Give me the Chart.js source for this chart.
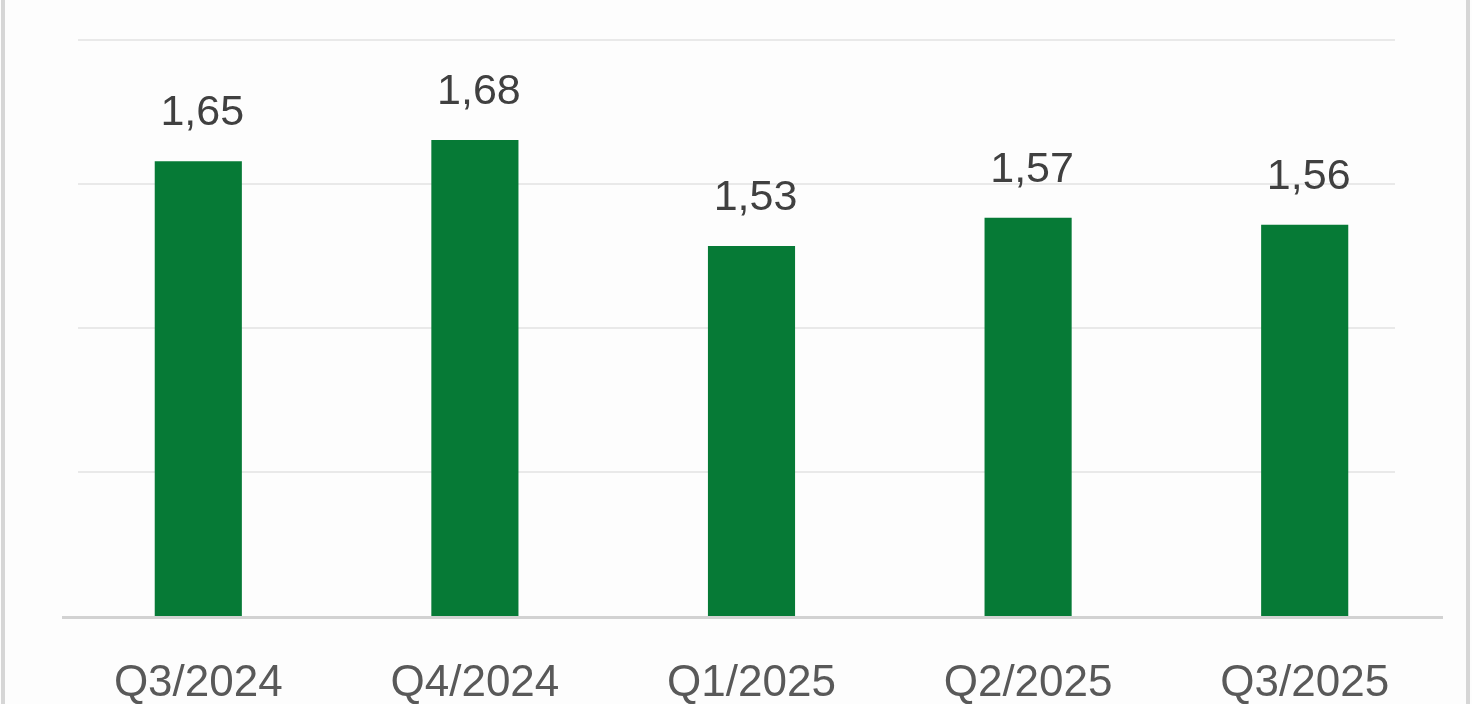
<!DOCTYPE html>
<html>
<head>
<meta charset="utf-8">
<script src="https://cdn.jsdelivr.net/npm/chart.js@4/dist/chart.umd.min.js"></script>
<style>
  html, body { margin: 0; padding: 0; background: #ffffff; }
  #wrap { position: relative; width: 1472px; height: 704px; }
  canvas { display: block; }
</style>
</head>
<body>
<div id="wrap"><canvas id="c" width="1472" height="704"></canvas></div>
<script>
const categories = ["Q3/2024", "Q4/2024", "Q1/2025", "Q2/2025", "Q3/2025"];
const values = [1.65, 1.68, 1.53, 1.57, 1.56];
const valueLabels = ["1,65", "1,68", "1,53", "1,57", "1,56"];
const yMin = 1.0067;
const yMax = 1.8214;

const FONT = "'Liberation Sans', Arial, sans-serif";

const decorPlugin = {
  id: 'decor',
  beforeDraw(chart) {
    const ctx = chart.ctx;
    ctx.save();
    ctx.fillStyle = '#fdfdfd';
    ctx.fillRect(0, 0, chart.width, chart.height);
    ctx.fillStyle = '#d6d6d6';
    ctx.fillRect(1, 0, 4, chart.height);
    ctx.fillRect(1466, 0, 4, chart.height);
    ctx.restore();
  },
  beforeDatasetsDraw(chart) {
    const ctx = chart.ctx;
    const y = chart.scales.y;
    ctx.save();
    ctx.strokeStyle = '#e9e9e9';
    ctx.lineWidth = 2;
    y.ticks.forEach((t, i) => {
      if (i === 0) return;
      const py = Math.round(y.getPixelForValue(t.value));
      ctx.beginPath();
      ctx.moveTo(78, py);
      ctx.lineTo(1395, py);
      ctx.stroke();
    });
    ctx.restore();
  },
  afterDatasetsDraw(chart) {
    const ctx = chart.ctx;
    const area = chart.chartArea;
    ctx.save();
    ctx.strokeStyle = '#d2d2d2';
    ctx.lineWidth = 3;
    ctx.beginPath();
    ctx.moveTo(62, area.bottom + 1.5);
    ctx.lineTo(1443, area.bottom + 1.5);
    ctx.stroke();
    const meta = chart.getDatasetMeta(0);
    ctx.fillStyle = '#404040';
    ctx.font = '43px ' + FONT;
    ctx.textAlign = 'center';
    ctx.textBaseline = 'alphabetic';
    meta.data.forEach((bar, i) => {
      ctx.fillText(valueLabels[i], bar.x + 4, bar.y - 36);
    });
    ctx.restore();
  }
};

new Chart(document.getElementById('c'), {
  type: 'bar',
  data: {
    labels: categories,
    datasets: [{
      data: values,
      backgroundColor: '#067a36',
      borderWidth: 0,
      barPercentage: 0.315,
      categoryPercentage: 1.0
    }]
  },
  options: {
    responsive: false,
    animation: false,
    events: [],
    layout: { padding: { top: 40, left: 60, right: 29, bottom: 0 } },
    plugins: { legend: { display: false }, tooltip: { enabled: false } },
    scales: {
      x: {
        grid: { display: false },
        border: { display: false },
        ticks: {
          color: '#595959',
          font: { family: FONT, size: 44 },
          padding: 33,
          maxRotation: 0,
          autoSkip: false
        },
        afterFit(scale) { scale.height = 88; }
      },
      y: {
        display: false,
        min: yMin,
        max: yMax,
        ticks: { count: 5 }
      }
    }
  },
  plugins: [decorPlugin]
});
</script>
</body>
</html>
